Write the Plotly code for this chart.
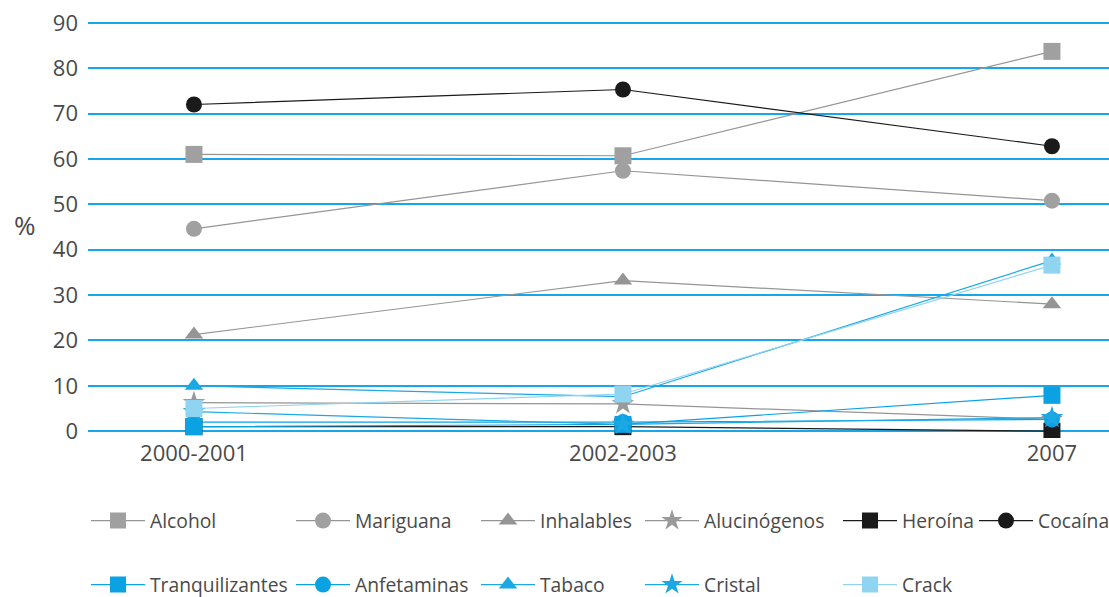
import plotly.graph_objects as go

periods = ["2000-2001", "2002-2003", "2007"]

alcohol = [61, 60.7, 83.7]
mariguana = [44.6, 57.4, 50.8]
inhalables = [21.3, 33.2, 28.0]
alucinogenos = [6.3, 6.0, 2.6]
heroina = [1.0, 1.0, 0.0]
cocaina = [72.0, 75.3, 62.8]
tranquilizantes = [1.0, 1.5, 7.9]
anfetaminas = [2.0, 2.0, 2.6]
tabaco = [10.0, 7.6, 37.6]
cristal = [4.3, 1.5, 3.0]
crack = [5.0, 8.2, 36.6]

ytick_vals = [0, 10, 20, 30, 40, 50, 60, 70, 80, 90]

GRAY = "#959595"
BLACK = "#1a1a1a"
BLUE = "#0aa2e3"
BLUE2 = "#1ba8e4"
LIGHT = "#8fd4f1"
TXT = "#4a4a4a"
FONT = "Open Sans"

series = [
    ("Alcohol", alcohol, GRAY, "square", 17, "#a0a0a0"),
    ("Mariguana", mariguana, GRAY, "circle", 16, "#a0a0a0"),
    ("Inhalables", inhalables, GRAY, "triangle-up", 16, "#959595"),
    ("Alucinógenos", alucinogenos, GRAY, "star", 17, "#9a9a9a"),
    ("Heroína", heroina, BLACK, "square", 17, BLACK),
    ("Cocaína", cocaina, BLACK, "circle", 16, BLACK),
    ("Tranquilizantes", tranquilizantes, BLUE, "square", 17, BLUE),
    ("Anfetaminas", anfetaminas, BLUE, "circle", 16, BLUE),
    ("Tabaco", tabaco, BLUE2, "triangle-up", 16, BLUE2),
    ("Cristal", cristal, BLUE2, "star", 17, BLUE2),
    ("Crack", crack, LIGHT, "square", 17, LIGHT),
]

W, H = 1109, 597
# text start x of each legend column, and row centre y
col_text_x = [150, 355, 540, 704, 902, 1038]
row_y = [521, 585]
positions = [(col_text_x[c], row_y[0]) for c in range(6)] + \
            [(col_text_x[c], row_y[1]) for c in range(5)]
ITEMW = 54
TEXT_OFFSET = ITEMW + 10

ML, MR, MT, MB = 88, 0, 16, 159
PW, PH = W - ML - MR, H - MT - MB

fig = go.Figure()
legend_layouts = {}
for i, (name, vals, color, sym, size, mcolor) in enumerate(series):
    lname = "legend" if i == 0 else f"legend{i+1}"
    fig.add_trace(go.Scatter(
        x=[0, 1, 2], y=vals, name=name, mode="lines+markers",
        line=dict(color=color, width=1.2),
        marker=dict(symbol=sym, size=size, color=mcolor, line=dict(width=0)),
        legend=lname,
    ))
    px, py = positions[i]
    legend_layouts[lname] = dict(
        x=(px - TEXT_OFFSET - ML) / PW, y=(H - MB - py) / PH,
        xanchor="left", yanchor="middle",
        xref="paper", yref="paper",
        bgcolor="rgba(0,0,0,0)",
        font=dict(family=FONT, size=19.3, color=TXT),
        itemwidth=ITEMW,
    )

fig.update_layout(
    width=W, height=H,
    margin=dict(l=ML, r=MR, t=MT, b=MB, autoexpand=False),
    plot_bgcolor="white", paper_bgcolor="white",
    showlegend=True,
    **legend_layouts,
    xaxis=dict(
        range=[-0.247, 2.133],
        tickvals=[0, 1, 2], ticktext=periods,
        showgrid=False, zeroline=False, showline=False,
        tickfont=dict(family=FONT, size=22, color=TXT),
        ticks="", ticklabelstandoff=0,
    ),
    yaxis=dict(
        range=[-1.5, 91.5],
        tickvals=ytick_vals,
        showgrid=True, gridcolor="#17a7e8", gridwidth=1.5,
        zeroline=True, zerolinecolor="#17a7e8", zerolinewidth=1.5,
        showline=False, ticks="", ticklabelstandoff=9,
        tickfont=dict(family=FONT, size=22, color=TXT),
    ),
    annotations=[dict(
        text="%", x=-0.062, y=(H - MB - 225) / PH, xref="paper", yref="paper",
        showarrow=False, xanchor="center", yanchor="middle",
        font=dict(family=FONT, size=26, color=TXT),
    )],
)

fig.write_html("out.html")
